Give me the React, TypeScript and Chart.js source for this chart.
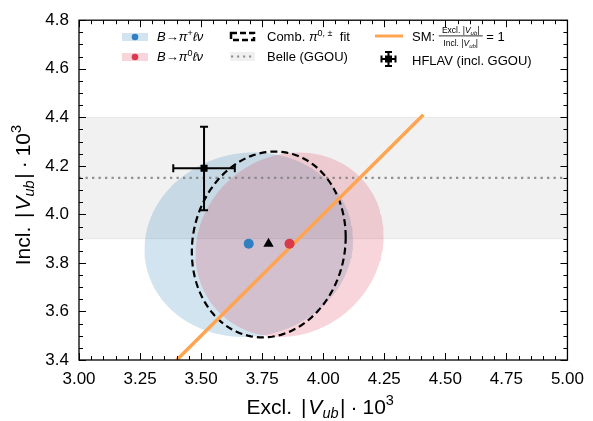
import React, { useEffect, useRef } from "react";
import { Chart, registerables } from "chart.js";
Chart.register(...registerables);

// ---- axes ----
const xRange = [3.0, 5.0];
const yRange = [3.4, 4.8];
const xTickStep = 0.25;
const yTickStep = 0.2;
const minorStep = 0.05;

// ---- fit results: centre, half-widths (sigma), correlation ----
const chargedCenter = [3.695, 3.875];
const chargedSigma = [0.427, 0.38];
const chargedRho = 0.05;

const neutralCenter = [3.862, 3.875];
const neutralSigma = [0.385, 0.38];
const neutralRho = 0.1;

const combCenter = [3.777, 3.876];
const combSigma = [0.315, 0.383];
const combRho = 0.08;

// ---- central values ----
const chargedPoint = [3.695, 3.879];
const neutralPoint = [3.862, 3.879];
const combPoint = [3.776, 3.879];

// ---- Belle inclusive (GGOU) ----
const belleIncl = 4.15;
const belleBand = [3.9, 4.4];

// ---- SM line Excl = Incl ----
const smRange = [3.4, 4.41];

// ---- HFLAV (incl. GGOU) ----
const hflavPoint = [3.512, 4.19];
const hflavXErr = [0.126, 0.126];
const hflavYErr = [0.173, 0.171];

const FONT = "'Liberation Sans', 'DejaVu Sans', Arial, sans-serif";

function ellipsePoints(c: number[], s: number[], rho: number, n = 160) {
  const pts: { x: number; y: number }[] = [];
  const k = Math.sqrt(1 - rho * rho);
  for (let i = 0; i <= n; i++) {
    const t = (2 * Math.PI * i) / n;
    pts.push({
      x: c[0] + s[0] * Math.cos(t),
      y: c[1] + s[1] * (rho * Math.cos(t) + k * Math.sin(t)),
    });
  }
  return pts;
}

type Part = { t: string; size: number; italic?: boolean; dy?: number; gap?: number };

function drawParts(ctx: CanvasRenderingContext2D, parts: Part[], x: number, y: number, align: "left" | "center" = "left") {
  ctx.textAlign = "left";
  ctx.textBaseline = "alphabetic";
  let total = 0;
  const widths: number[] = [];
  for (const p of parts) {
    ctx.font = `${p.italic ? "italic " : ""}${p.size}px ${FONT}`;
    const w = ctx.measureText(p.t).width;
    widths.push(w);
    total += w + (p.gap || 0);
  }
  let cx = align === "center" ? x - total / 2 : x;
  parts.forEach((p, i) => {
    ctx.font = `${p.italic ? "italic " : ""}${p.size}px ${FONT}`;
    ctx.fillText(p.t, cx, y + (p.dy || 0));
    cx += widths[i] + (p.gap || 0);
  });
  return cx;
}

const frameTicksPlugin = {
  id: "frameTicks",
  afterDatasetsDraw(chart: any) {
    const ctx: CanvasRenderingContext2D = chart.ctx;
    const { left, right, top, bottom } = chart.chartArea;
    const xs = chart.scales.x;
    const ys = chart.scales.y;
    ctx.save();
    ctx.strokeStyle = "#000";
    ctx.lineWidth = 1;
    const nx = Math.round((xRange[1] - xRange[0]) / minorStep);
    const majorEveryX = Math.round(xTickStep / minorStep);
    for (let i = 0; i <= nx; i++) {
      const v = xRange[0] + i * minorStep;
      const px = Math.round(xs.getPixelForValue(v)) + 0.5;
      const len = i % majorEveryX === 0 ? 7 : 4;
      ctx.beginPath();
      ctx.moveTo(px, bottom);
      ctx.lineTo(px, bottom - len);
      ctx.moveTo(px, top);
      ctx.lineTo(px, top + len);
      ctx.stroke();
    }
    const ny = Math.round((yRange[1] - yRange[0]) / minorStep);
    const majorEveryY = Math.round(yTickStep / minorStep);
    for (let i = 0; i <= ny; i++) {
      const v = yRange[0] + i * minorStep;
      const py = Math.round(ys.getPixelForValue(v)) + 0.5;
      const len = i % majorEveryY === 0 ? 7 : 4;
      ctx.beginPath();
      ctx.moveTo(left, py);
      ctx.lineTo(left + len, py);
      ctx.moveTo(right, py);
      ctx.lineTo(right - len, py);
      ctx.stroke();
    }
    ctx.lineWidth = 1.3;
    ctx.strokeRect(left, top, right - left, bottom - top);
    ctx.restore();
  },
  afterDraw(chart: any) {
    const ctx: CanvasRenderingContext2D = chart.ctx;
    const { left, right, top, bottom } = chart.chartArea;
    ctx.save();
    ctx.fillStyle = "#000";
    // axis titles
    const titleParts: Part[] = [
      { t: "|", size: 21, gap: 2 },
      { t: "V", size: 21, italic: true },
      { t: "ub", size: 14.5, italic: true, dy: 4, gap: 1.5 },
      { t: "|", size: 21, gap: 5 },
      { t: "·", size: 21, gap: 5 },
      { t: "10", size: 21 },
      { t: "3", size: 14.5, dy: -9 },
    ];
    drawParts(ctx, [{ t: "Excl. ", size: 21, gap: 3 }, ...titleParts], (left + right) / 2 - 3, 414, "center");
    ctx.save();
    ctx.translate(30, (top + bottom) / 2 + 5);
    ctx.rotate(-Math.PI / 2);
    drawParts(ctx, [{ t: "Incl. ", size: 21, gap: 3 }, ...titleParts], 0, 0, "center");
    ctx.restore();

    // ---- legend ----
    const col1 = left + 43;
    ctx.fillStyle = "rgba(31,119,180,0.2)";
    ctx.fillRect(col1, 33, 26, 8);
    ctx.fillStyle = "#2f7fc1";
    ctx.beginPath();
    ctx.arc(col1 + 13, 37, 3.3, 0, Math.PI * 2);
    ctx.fill();
    ctx.fillStyle = "rgba(214,45,70,0.2)";
    ctx.fillRect(col1, 53, 26, 8);
    ctx.fillStyle = "#d83a4c";
    ctx.beginPath();
    ctx.arc(col1 + 13, 57, 3.3, 0, Math.PI * 2);
    ctx.fill();
    ctx.fillStyle = "#000";
    drawParts(ctx, [
      { t: "B", size: 13, italic: true },
      { t: "→", size: 13 },
      { t: "π", size: 13, italic: true },
      { t: "+", size: 9, dy: -5 },
      { t: "ℓν", size: 13, italic: true },
    ], col1 + 35, 41);
    drawParts(ctx, [
      { t: "B", size: 13, italic: true },
      { t: "→", size: 13 },
      { t: "π", size: 13, italic: true },
      { t: "0", size: 9, dy: -5 },
      { t: "ℓν", size: 13, italic: true },
    ], col1 + 35, 61);

    // combined fit (dashed edge patch)
    const col2 = left + 151;
    ctx.save();
    ctx.strokeStyle = "#000";
    ctx.lineWidth = 2.5;
    ctx.setLineDash([6, 3]);
    ctx.strokeRect(col2 + 1, 33, 23, 7);
    ctx.restore();
    drawParts(ctx, [
      { t: "Comb. ", size: 13 },
      { t: "π", size: 13, italic: true },
      { t: "0, ±", size: 9, dy: -5 },
      { t: "  fit", size: 13 },
    ], col2 + 37, 41);
    // Belle
    ctx.fillStyle = "rgba(128,128,128,0.12)";
    ctx.fillRect(col2, 52, 25, 9);
    ctx.save();
    ctx.strokeStyle = "rgba(128,128,128,0.85)";
    ctx.lineWidth = 2.2;
    ctx.setLineDash([2.2, 3.8]);
    ctx.beginPath();
    ctx.moveTo(col2 + 1, 56.5);
    ctx.lineTo(col2 + 25, 56.5);
    ctx.stroke();
    ctx.restore();
    ctx.fillStyle = "#000";
    drawParts(ctx, [{ t: "Belle (GGOU)", size: 13 }], col2 + 37, 61);

    // SM line
    const col3 = left + 296;
    ctx.save();
    ctx.strokeStyle = "#ffa552";
    ctx.lineWidth = 3;
    ctx.beginPath();
    ctx.moveTo(col3, 36);
    ctx.lineTo(col3 + 28, 36);
    ctx.stroke();
    ctx.restore();
    const xx = drawParts(ctx, [{ t: "SM: ", size: 13 }], col3 + 37, 41);
    const fracParts = (w: string): Part[] => [
      { t: w + " |", size: 8.5 },
      { t: "V", size: 8.5, italic: true },
      { t: "ub", size: 6, italic: true, dy: 2 },
      { t: "|", size: 8.5 },
    ];
    const fx = xx + 22;
    drawParts(ctx, fracParts("Excl."), fx, 32.5, "center");
    drawParts(ctx, fracParts("Incl."), fx, 45.5, "center");
    ctx.fillRect(xx, 35.5, 44, 0.8);
    drawParts(ctx, [{ t: " = 1", size: 13 }], xx + 44, 41);

    // HFLAV marker
    const hx = col3 + 13.5, hy = 59;
    ctx.save();
    ctx.strokeStyle = "#000";
    ctx.lineWidth = 2;
    ctx.beginPath();
    ctx.moveTo(hx - 7, hy); ctx.lineTo(hx + 7, hy);
    ctx.moveTo(hx, hy - 7); ctx.lineTo(hx, hy + 7);
    ctx.moveTo(hx - 7, hy - 3.5); ctx.lineTo(hx - 7, hy + 3.5);
    ctx.moveTo(hx + 7, hy - 3.5); ctx.lineTo(hx + 7, hy + 3.5);
    ctx.moveTo(hx - 3.5, hy - 7); ctx.lineTo(hx + 3.5, hy - 7);
    ctx.moveTo(hx - 3.5, hy + 7); ctx.lineTo(hx + 3.5, hy + 7);
    ctx.stroke();
    ctx.fillRect(hx - 3.5, hy - 3.5, 7, 7);
    ctx.restore();
    drawParts(ctx, [{ t: "HFLAV (incl. GGOU)", size: 13 }], col3 + 37, 64.5);
    ctx.restore();
  },
};

export default function App() {
  const ref = useRef<HTMLCanvasElement>(null);
  useEffect(() => {
    if (!ref.current) return;
    const pt = (p: number[]) => [{ x: p[0], y: p[1] }];
    const chart = new Chart(ref.current, {
      type: "line",
      data: {
        datasets: [
          {
            label: "HFLAV",
            data: pt(hflavPoint),
            showLine: false,
            pointStyle: "rect",
            pointRadius: 5,
            backgroundColor: "#000",
            borderColor: "#000",
            borderWidth: 0,
            order: 0,
          },
          {
            label: "HFLAV x err",
            data: [
              { x: hflavPoint[0] - hflavXErr[0], y: hflavPoint[1] },
              { x: hflavPoint[0] + hflavXErr[1], y: hflavPoint[1] },
            ],
            borderColor: "#000",
            borderWidth: 2,
            pointStyle: "line",
            pointRotation: 90,
            pointRadius: 4,
            pointBorderWidth: 2,
            pointBorderColor: "#000",
            fill: false,
            order: 1,
          },
          {
            label: "HFLAV y err",
            data: [
              { x: hflavPoint[0], y: hflavPoint[1] - hflavYErr[0] },
              { x: hflavPoint[0], y: hflavPoint[1] + hflavYErr[1] },
            ],
            borderColor: "#000",
            borderWidth: 2,
            pointStyle: "line",
            pointRotation: 0,
            pointRadius: 4,
            pointBorderWidth: 2,
            pointBorderColor: "#000",
            fill: false,
            order: 1,
          },
          {
            label: "charged",
            data: pt(chargedPoint),
            showLine: false,
            pointStyle: "circle",
            pointRadius: 5,
            backgroundColor: "#2f7fc1",
            borderWidth: 0,
            order: 2,
          },
          {
            label: "neutral",
            data: pt(neutralPoint),
            showLine: false,
            pointStyle: "circle",
            pointRadius: 5,
            backgroundColor: "#d83a4c",
            borderWidth: 0,
            order: 2,
          },
          {
            label: "comb",
            data: pt(combPoint),
            showLine: false,
            pointStyle: "triangle",
            pointRadius: 6,
            backgroundColor: "#000",
            borderWidth: 0,
            order: 2,
          },
          {
            label: "SM",
            data: [
              { x: smRange[0], y: smRange[0] },
              { x: smRange[1], y: smRange[1] },
            ],
            borderColor: "#ffa552",
            borderWidth: 3.5,
            pointRadius: 0,
            fill: false,
            order: 3,
          },
          {
            label: "comb fit",
            data: ellipsePoints(combCenter, combSigma, combRho),
            borderColor: "#000",
            borderWidth: 2.2,
            borderDash: [7, 4],
            pointRadius: 0,
            fill: false,
            tension: 0,
            order: 4,
          },
          {
            label: "Belle line",
            data: [
              { x: xRange[0], y: belleIncl },
              { x: xRange[1], y: belleIncl },
            ],
            borderColor: "rgba(128,128,128,0.85)",
            borderWidth: 2.3,
            borderDash: [2.3, 4.2],
            pointRadius: 0,
            fill: false,
            order: 5,
          },
          {
            label: "neutral fit",
            data: ellipsePoints(neutralCenter, neutralSigma, neutralRho),
            borderWidth: 0,
            borderColor: "rgba(0,0,0,0)",
            backgroundColor: "rgba(214,45,70,0.2)",
            pointRadius: 0,
            fill: "shape",
            order: 6,
          },
          {
            label: "charged fit",
            data: ellipsePoints(chargedCenter, chargedSigma, chargedRho),
            borderWidth: 0,
            borderColor: "rgba(0,0,0,0)",
            backgroundColor: "rgba(31,119,180,0.2)",
            pointRadius: 0,
            fill: "shape",
            order: 7,
          },
          {
            label: "Belle band",
            data: [
              { x: xRange[0], y: belleBand[1] },
              { x: xRange[1], y: belleBand[1] },
            ],
            borderColor: "rgba(128,128,128,0.12)",
            borderWidth: 1,
            backgroundColor: "rgba(128,128,128,0.11)",
            pointRadius: 0,
            fill: { value: belleBand[0] },
            order: 8,
          },
          {
            label: "Belle band low",
            data: [
              { x: xRange[0], y: belleBand[0] },
              { x: xRange[1], y: belleBand[0] },
            ],
            borderColor: "rgba(128,128,128,0.12)",
            borderWidth: 1,
            pointRadius: 0,
            fill: false,
            order: 9,
          },
        ] as any,
      },
      options: {
        animation: false,
        responsive: false,
        maintainAspectRatio: false,
        events: [],
        layout: { padding: { top: 15, right: 22, left: 0, bottom: 0 } },
        plugins: { legend: { display: false }, tooltip: { enabled: false } },
        scales: {
          x: {
            type: "linear",
            min: xRange[0],
            max: xRange[1],
            grid: { display: false, drawTicks: false },
            border: { display: false },
            ticks: {
              stepSize: xTickStep,
              padding: 9,
              color: "#000",
              font: { family: FONT, size: 17 },
              maxRotation: 0,
              callback: (v: any) => Number(v).toFixed(2),
            },
            afterFit: (s: any) => {
              s.height = 61;
            },
          },
          y: {
            type: "linear",
            min: yRange[0],
            max: yRange[1],
            grid: { display: false, drawTicks: false },
            border: { display: false },
            ticks: {
              stepSize: yTickStep,
              padding: 10,
              color: "#000",
              font: { family: FONT, size: 17 },
              callback: (v: any) => Number(v).toFixed(1),
            },
            afterFit: (s: any) => {
              s.width = 79;
            },
          },
        },
      },
      plugins: [frameTicksPlugin],
    });
    return () => chart.destroy();
  }, []);
  return (
    <div style={{ position: "fixed", left: 0, top: 0, width: 593, height: 421, background: "#fff" }}>
      <canvas ref={ref} width={593} height={421} />
    </div>
  );
}
